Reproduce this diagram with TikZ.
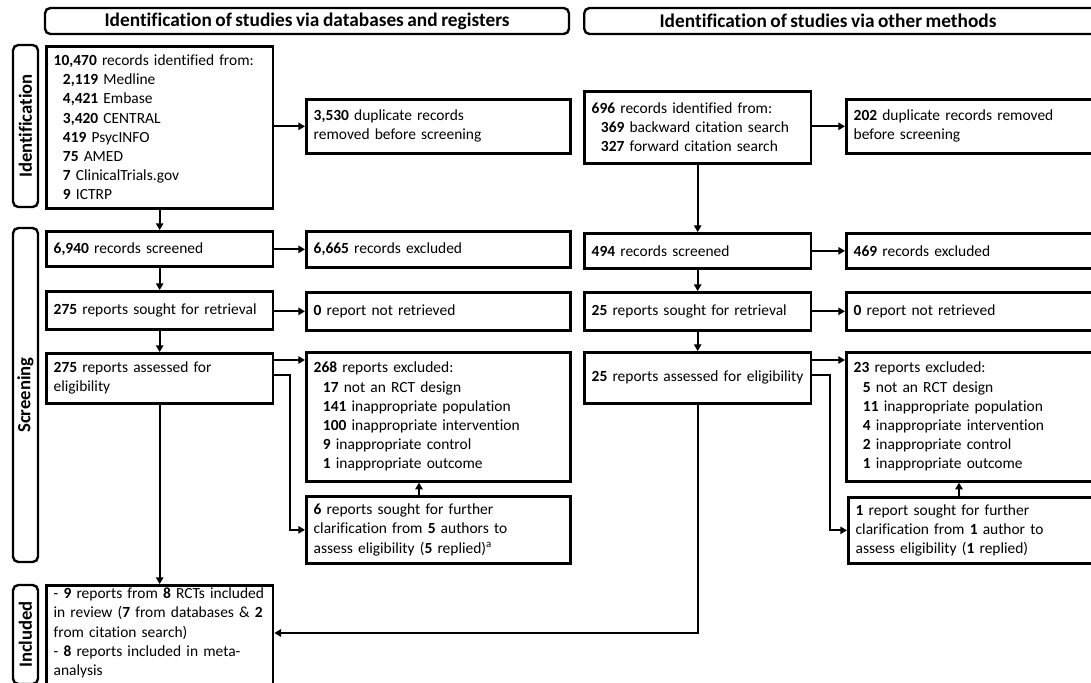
\documentclass[tikz,border=0pt]{standalone}
\usepackage{fontspec}
\setmainfont{Carlito}[Ligatures=NoCommon, WordSpace=0.8]
\usetikzlibrary{arrows.meta,calc}

\tikzset{
  box/.style={rectangle, draw, line width=2pt, anchor=north west, align=left, inner xsep=5.5pt, inner ysep=2pt, font=\fontsize{11.6}{14.4}\selectfont},
  mainbox/.style={box, text width=159pt},
  sidebox/.style={box, text width=187pt},
  phase/.style={rectangle, rounded corners=4pt, draw, line width=1.8pt, rotate=90, minimum height=18.75pt, inner sep=0pt, font=\fontsize{14}{16}\selectfont\bfseries},
  hdr/.style={rectangle, rounded corners=4pt, draw, line width=1.8pt, minimum height=19.5pt, inner sep=0pt, font=\fontsize{14.5}{16}\selectfont\bfseries},
  arr/.style={-{Triangle[length=5pt,width=5.5pt]}, line width=1.5pt},
}
\newcommand{\ind}{\hspace*{0.6em}}

\begin{document}
\begin{tikzpicture}[x=0.75pt,y=-0.75pt]
\useasboundingbox (0,0) rectangle (1091,682);

% headers
\node[hdr, minimum width=393pt] (hdrL) at (307,21) {Identification of studies via databases and registers};
\node[hdr, minimum width=405pt, anchor=west] (hdrR) at (583,21) {};
\node[font=\fontsize{14.5}{16}\selectfont\bfseries] (hdrRtxt) at (828,21) {Identification of studies via other methods};

% phases
\node[phase, minimum width=121.5pt] (phId) at (25.5,126) {Identification};
\node[phase, minimum width=250.5pt] (phScr) at (25.5,395) {Screening};
\node[phase, minimum width=74.25pt] (phInc) at (25.5,634.5) {Included};

% databases and registers
\node[mainbox, minimum height=121.5pt] (recL) at (45,45) {\textbf{10,470} records identified from:\\
  \ind\textbf{2,119} Medline\\
  \ind\textbf{4,421} Embase\\
  \ind\textbf{3,420} CENTRAL\\
  \ind\textbf{419} PsycINFO\\
  \ind\textbf{75} AMED\\
  \ind\textbf{7} ClinicalTrials.gov\\
  \ind\textbf{9} ICTRP};
\node[sidebox, minimum height=40.5pt] (dupL) at (305,98) {\textbf{3,530} duplicate records\\removed before screening};
\node[mainbox, minimum height=26.25pt] (scrL) at (45,230) {\textbf{6,940} records screened};
\node[sidebox, minimum height=27pt] (excL) at (305,230) {\textbf{6,665} records excluded};
\node[mainbox, minimum height=28.5pt] (sghtL) at (45,290) {\textbf{275} reports sought for retrieval};
\node[sidebox, minimum height=28.5pt] (notL) at (305,291) {\textbf{0} report not retrieved};
\node[mainbox, minimum height=37.5pt] (assL) at (45,352) {\textbf{275} reports assessed for\\eligibility};
\node[sidebox, minimum height=96.75pt] (exrL) at (305,351) {\textbf{268} reports excluded:\\
  \ind\textbf{17} not an RCT design\\
  \ind\textbf{141} inappropriate population\\
  \ind\textbf{100} inappropriate intervention\\
  \ind\textbf{9} inappropriate control\\
  \ind\textbf{1} inappropriate outcome};
\node[sidebox, minimum height=50.25pt] (clarL) at (305,495) {\textbf{6} reports sought for further\\clarification from \textbf{5} authors to\\assess eligibility (\textbf{5} replied)\textsuperscript{a}};
\node[mainbox] (incL) at (45,584) {- \textbf{9} reports from \textbf{8} RCTs included\\in review (\textbf{7} from databases \& \textbf{2}\\from citation search)\\- \textbf{8} reports included in meta-\\analysis\rule[-14pt]{0pt}{14pt}};

% other methods
\node[mainbox, minimum height=54pt] (recR) at (583,90) {\textbf{696} records identified from:\\
  \ind\textbf{369} backward citation search\\
  \ind\textbf{327} forward citation search};
\node[sidebox, minimum height=40.5pt] (dupR) at (845,98) {\textbf{202} duplicate records removed\\before screening};
\node[mainbox, minimum height=26.25pt] (scrR) at (583,232) {\textbf{494} records screened};
\node[sidebox, minimum height=26.25pt] (excR) at (845,232) {\textbf{469} records excluded};
\node[mainbox, minimum height=28.5pt] (sghtR) at (583,291) {\textbf{25} reports sought for retrieval};
\node[sidebox, minimum height=28.5pt] (notR) at (845,291) {\textbf{0} report not retrieved};
\node[mainbox, minimum height=38.25pt] (assR) at (583,351) {\textbf{25} reports assessed for eligibility};
\node[sidebox, minimum height=96.75pt] (exrR) at (845,351) {\textbf{23} reports excluded:\\
  \ind\textbf{5} not an RCT design\\
  \ind\textbf{11} inappropriate population\\
  \ind\textbf{4} inappropriate intervention\\
  \ind\textbf{2} inappropriate control\\
  \ind\textbf{1} inappropriate outcome};
\node[sidebox, minimum height=49.5pt] (clarR) at (847,496) {\textbf{1} report sought for further\\clarification from \textbf{1} author to\\assess eligibility (\textbf{1} replied)};

% connectors left
\draw[arr] (recL.east |- dupL.west) -- (dupL.west);
\draw[arr] (recL.south) -- (scrL.north);
\draw[arr] (scrL.east |- excL.west) -- (excL.west);
\draw[arr] (scrL.south) -- (sghtL.north);
\draw[arr] (sghtL.east |- notL.west) -- (notL.west);
\draw[arr] (sghtL.south) -- (assL.north);
\draw[arr] ($(assL.north east)+(0,8)$) -- ($(exrL.north west)+(0,9)$);
\draw[arr] ($(assL.north east)+(0,23)$) -- ++(16,0) |- (clarL.west);
\draw[arr] ($(clarL.north west)+(114,0)$) -- ($(exrL.south west)+(114,0)$);
\draw[arr] (assL.south) -- (incL.north);

% connectors right
\draw[arr] (recR.east |- dupR.west) -- (dupR.west);
\draw[arr] (recR.south) -- (scrR.north);
\draw[arr] (scrR.east |- excR.west) -- (excR.west);
\draw[arr] (scrR.south) -- (sghtR.north);
\draw[arr] (sghtR.east |- notR.west) -- (notR.west);
\draw[arr] (sghtR.south) -- (assR.north);
\draw[arr] ($(assR.north east)+(0,9)$) -- ($(exrR.north west)+(0,9)$);
\draw[arr] ($(assR.north east)+(0,24)$) -- ++(18,0) |- (clarR.west);
\draw[arr] ($(clarR.north west)+(112,0)$) -- ($(exrR.south west)+(114,0)$);
\draw[arr] (assR.south) |- ($(incL.north east)+(0,49)$);
\end{tikzpicture}
\end{document}
